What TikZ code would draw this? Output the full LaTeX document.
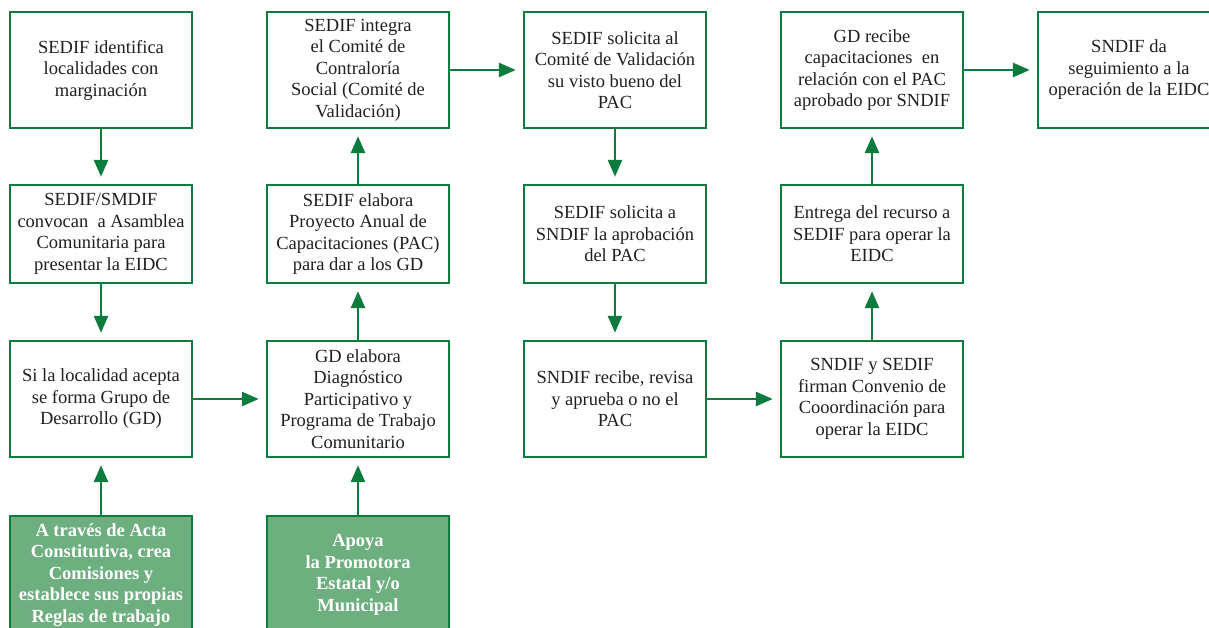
\documentclass[tikz,border=0pt]{standalone}
\usepackage{fontspec}
\setmainfont{Liberation Serif}
\usetikzlibrary{arrows.meta}
\definecolor{gline}{RGB}{12,124,62}
\definecolor{gfill}{RGB}{110,175,128}
\definecolor{txt}{RGB}{35,31,32}
\tikzset{
  box/.style={draw=gline, line width=2.4pt, minimum width=182pt, align=center, text=txt, inner sep=2pt,
    font=\fontsize{18.5}{21.5}\selectfont},
  tall/.style={box, minimum height=116pt},
  short/.style={box, minimum height=98pt},
  greenbox/.style={box, fill=gfill, text=white, minimum height=118pt, font=\fontsize{18.5}{21.5}\selectfont\bfseries},
  arr/.style={draw=gline, line width=2.8pt, -{Triangle[length=17pt,width=14pt]}, shorten >=7pt}
}
\begin{document}
\begin{tikzpicture}[x=1pt,y=-1pt]
\useasboundingbox (0,0) rectangle (1209,628);
\clip (0,0) rectangle (1209,628);
\fill[white] (0,0) rectangle (1209,628);
% column 1
\node[tall] (a1) at (101,70) {SEDIF identifica\\localidades con\\marginación};
\node[short] (a2) at (101,234) {SEDIF/SMDIF\\convocan\ \ a Asamblea\\Comunitaria para\\presentar la EIDC};
\node[tall] (a3) at (101,399) {Si la localidad acepta\\se forma Grupo de\\Desarrollo (GD)};
\node[greenbox] (a4) at (101,575) {A través de Acta\\Constitutiva, crea\\Comisiones y\\establece sus propias\\Reglas de trabajo};
% column 2
\node[tall] (b1) at (358,70) {SEDIF integra\\el Comité de\\Contraloría\\Social (Comité de\\Validación)};
\node[short] (b2) at (358,234) {SEDIF elabora\\Proyecto Anual de\\Capacitaciones (PAC)\\para dar a los GD};
\node[tall] (b3) at (358,399) {GD elabora\\Diagnóstico\\Participativo y\\Programa de Trabajo\\Comunitario};
\node[greenbox] (b4) at (358,575) {Apoya\\la Promotora\\Estatal y/o\\Municipal};
% column 3
\node[tall] (c1) at (615,70) {SEDIF solicita al\\Comité de Validación\\su visto bueno del\\PAC};
\node[short] (c2) at (615,234) {SEDIF solicita a\\SNDIF la aprobación\\del PAC};
\node[tall] (c3) at (615,399) {SNDIF recibe, revisa\\y aprueba o no el\\PAC};
% column 4
\node[tall] (d1) at (872,70) {GD recibe\\capacitaciones\ \ en\\relación con el PAC\\aprobado por SNDIF};
\node[short] (d2) at (872,234) {Entrega del recurso a\\SEDIF para operar la\\EIDC};
\node[tall] (d3) at (872,399) {SNDIF y SEDIF\\firman Convenio de\\Cooordinación para\\operar la EIDC};
% column 5
\node[tall] (e1) at (1129,70) {SNDIF da\\seguimiento a la\\operación de la EIDC};
% connectors
\draw[arr] (a1) -- (a2);
\draw[arr] (a2) -- (a3);
\draw[arr] (a4) -- (a3);
\draw[arr] (a3) -- (b3);
\draw[arr] (b4) -- (b3);
\draw[arr] (b3) -- (b2);
\draw[arr] (b2) -- (b1);
\draw[arr] (b1) -- (c1);
\draw[arr] (c1) -- (c2);
\draw[arr] (c2) -- (c3);
\draw[arr] (c3) -- (d3);
\draw[arr] (d3) -- (d2);
\draw[arr] (d2) -- (d1);
\draw[arr] (d1) -- (e1);
\end{tikzpicture}
\end{document}
